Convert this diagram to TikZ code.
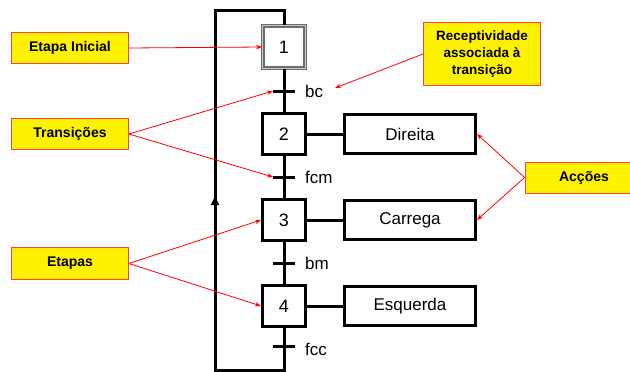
\documentclass[tikz,border=0pt]{standalone}
\usepackage{fontspec}
\setmainfont{Liberation Sans}
\usetikzlibrary{arrows.meta}
\begin{document}
\begin{tikzpicture}[x=1pt,y=-1pt,
  stepbox/.style={draw=black,line width=3pt,fill=white,minimum width=43pt,minimum height=41pt,inner sep=0pt,font=\fontsize{18}{20}\selectfont},
  actbox/.style={draw=black,line width=3pt,fill=white,minimum width=131pt,minimum height=39pt,inner sep=0pt,font=\fontsize{17}{20}\selectfont},
  note/.style={draw=red!75,line width=0.8pt,fill=yellow,inner sep=0pt,font=\fontsize{14}{17}\selectfont\bfseries,align=center},
  redarr/.style={draw=red,line width=0.8pt,-{Stealth[length=6pt,width=4.5pt]}},
  flow/.style={line width=3pt},
  trlab/.style={anchor=west,inner sep=0pt,font=\fontsize{17}{20}\selectfont}]
\useasboundingbox (0,0) rectangle (630,372);
\clip (0,0) rectangle (630,372);
% steps
\node[draw=gray!85!black,line width=1.4pt,double=gray!45,double distance=1pt,fill=white,minimum size=42.5pt,inner sep=0pt,font=\fontsize{18}{20}\selectfont] (s1) at (284,47) {1};
\node[stepbox] (s2) at (284,134) {2};
\node[stepbox] (s3) at (284,220) {3};
\node[stepbox] (s4) at (284,306) {4};
% transitions
\coordinate (t1) at (284,91);
\coordinate (t2) at (284,177);
\coordinate (t3) at (284,263);
\coordinate (t4) at (284,346);
\coordinate (t1l) at (273,91); \coordinate (t1r) at (295,91);
\coordinate (t2l) at (273,177); \coordinate (t2r) at (295,177);
\coordinate (t3l) at (273,263); \coordinate (t3r) at (295,263);
\coordinate (t4l) at (273,346); \coordinate (t4r) at (295,346);
% loop corners
\coordinate (c1) at (284,10);
\coordinate (c2) at (215,10);
\coordinate (c3) at (215,370);
\coordinate (c4) at (284,370);
\coordinate (ca) at (215,196);
% flow lines
\draw[flow] (s1.south) -- (s2.north);
\draw[flow] (s2.south) -- (s3.north);
\draw[flow] (s3.south) -- (s4.north);
\draw[flow] (s4.south) -- (c4) -- (c3) -- (c2) -- (c1) -- (s1.north);
\draw[line width=2.5pt,-{Triangle[length=9pt,width=8pt]}] (c3) -- (ca);
\draw[flow] (t1l) -- (t1r);
\draw[flow] (t2l) -- (t2r);
\draw[flow] (t3l) -- (t3r);
\draw[flow] (t4l) -- (t4r);
\node[trlab] (l1) at (305,91) {bc};
\node[trlab] (l2) at (305,177) {fcm};
\node[trlab] (l3) at (305,263) {bm};
\node[trlab] (l4) at (305,349) {fcc};
% actions
\node[actbox] (a2) at (410,134) {Direita};
\node[actbox] (a3) at (410,220) {Carrega};
\node[actbox] (a4) at (410,306) {Esquerda};
\draw[flow] (s2.east) -- (a2.west);
\draw[flow] (s3.east) -- (a3.west);
\draw[flow] (s4.east) -- (a4.west);
% notes
\node[note,minimum width=117pt,minimum height=31pt] (n1) at (70,48) {Etapa Inicial};
\node[note,minimum width=117pt,minimum height=31pt] (n2) at (70,134) {Transições};
\node[note,minimum width=117pt,minimum height=32pt] (n3) at (70,263.5) {Etapas};
\node[note,minimum width=117pt,minimum height=63pt,font=\fontsize{13.5}{17}\selectfont\bfseries] (n4) at (482,54) {Receptividade\\associada à\\transição};
\node[note,minimum width=118pt,minimum height=31pt] (n5) at (584,177.5) {Acções};
\coordinate (rt) at (335,88);
% red arrows
\draw[redarr] (n1.east) -- (s1.west);
\draw[redarr] (n2.east) -- (t1l);
\draw[redarr] (n2.east) -- (t2l);
\draw[redarr] (n3.east) -- (s3.west);
\draw[redarr] (n3.east) -- (s4.west);
\draw[redarr] (n4.west) -- (rt);
\draw[redarr] (n5.west) -- (a2.east);
\draw[redarr] (n5.west) -- (a3.east);
\end{tikzpicture}
\end{document}
